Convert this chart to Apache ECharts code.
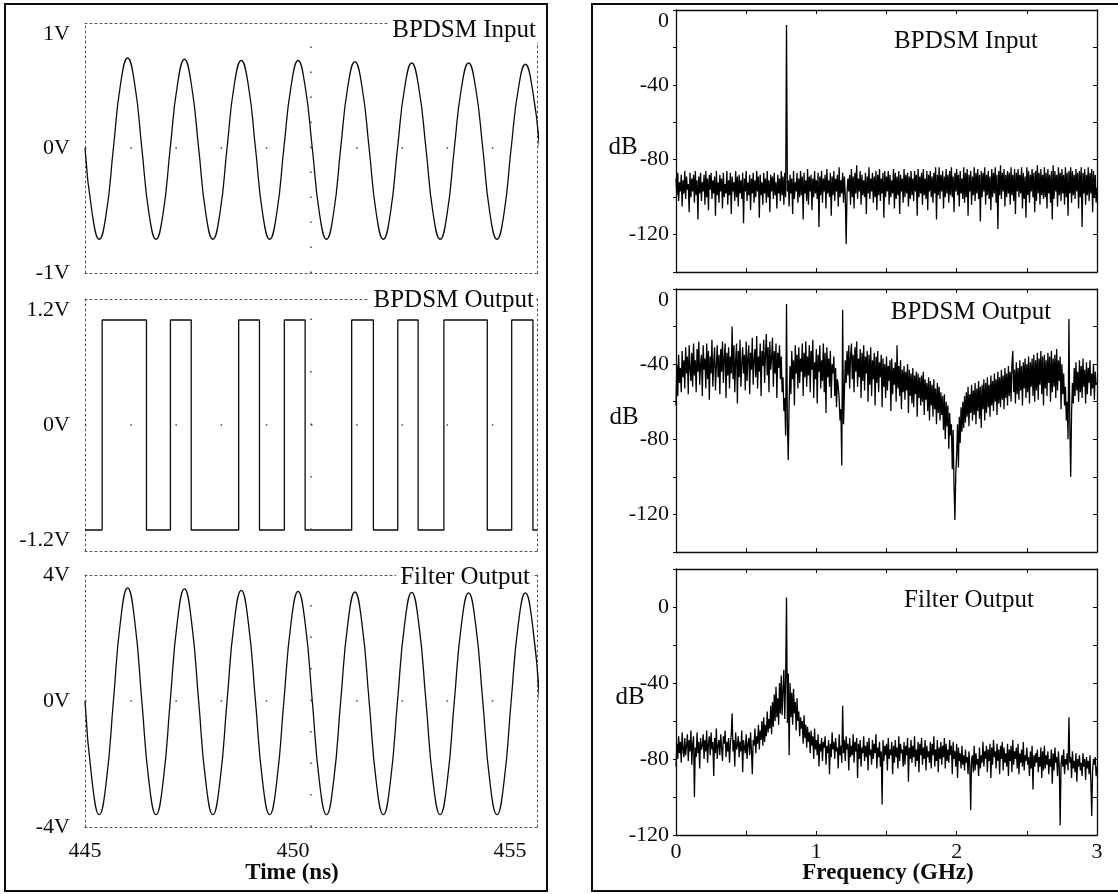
<!DOCTYPE html>
<html><head><meta charset="utf-8">
<script src="https://cdn.jsdelivr.net/npm/echarts@6/dist/echarts.min.js"></script>
<style>html,body{margin:0;padding:0;background:#fff}#c{width:1118px;height:894px}</style>
</head><body><div id="c"></div>
<script>
// ---------------- data ----------------
const timeStartNs = 445;
const sineStepNs = 0.15714;          // one eighth of the 1.257 ns period
const inputVolts = [
  0,-0.52,-0.73,-0.52,0,0.51,0.72,0.51,
  0,-0.52,-0.73,-0.52,0,0.50,0.71,0.50,
  0,-0.52,-0.73,-0.52,0,0.50,0.70,0.50,
  0,-0.52,-0.73,-0.52,0,0.49,0.70,0.49,
  0,-0.52,-0.73,-0.52,0,0.49,0.69,0.49,
  0,-0.52,-0.73,-0.52,0,0.48,0.68,0.48,
  0,-0.52,-0.73,-0.52,0,0.48,0.68,0.48,
  0,-0.52,-0.73,-0.52,0,0.47,0.67,0.47,
  0];
const filterVolts = [
  0,-2.55,-3.61,-2.55,0,2.54,3.59,2.54,
  0,-2.55,-3.61,-2.55,0,2.52,3.56,2.52,
  0,-2.55,-3.61,-2.55,0,2.48,3.51,2.48,
  0,-2.55,-3.61,-2.55,0,2.46,3.48,2.46,
  0,-2.55,-3.61,-2.55,0,2.45,3.46,2.45,
  0,-2.55,-3.61,-2.55,0,2.44,3.45,2.44,
  0,-2.55,-3.61,-2.55,0,2.43,3.43,2.43,
  0,-2.55,-3.61,-2.55,0,2.43,3.43,2.43,
  0];
const outputEdgeTimes = [445,445.38,446.36,446.89,447.35,448.40,448.86,449.41,449.87,450.90,451.38,451.92,452.37,452.94,453.90,454.44,454.91,455];
const outputLevels    = [-1,1,-1,1,-1,1,-1,1,-1,1,-1,1,-1,1,-1,1,-1,-1];

const freqStepGHz = 0.00625;
const specInputDb = [
  -90,-99,-87,-102,-92,-97,-88,-105,-91,-98,
  -86,-101,-89,-96,-93,-108,-87,-100,-90,-97,
  -88,-103,-86,-99,-91,-112,-89,-98,-87,-102,
  -92,-97,-88,-104,-86,-100,-90,-107,-88,-96,
  -87,-101,-91,-98,-89,-110,-86,-99,-92,-103,
  -88,-97,-90,-106,-87,-100,-93,-98,-86,-104,
  -91,-99,-87,-109,-89,-97,-92,-102,-86,-100,
  -89,-105,-88,-98,-91,-101,-87,-114,-90,-97,
  -86,-102,-92,-99,-88,-107,-90,-98,-87,-103,
  -91,-100,-86,-97,-89,-111,-88,-99,-92,-104,
  -87,-98,-90,-103,-86,-100,-91,-108,-88,-97,
  -89,-101,-87,-99,-92,-106,-88,-98,-90,-102,
  -86,-99,-89,-104,-87,-100,-8,-97,-91,-105,
  -88,-98,-90,-109,-86,-101,-92,-97,-87,-103,
  -90,-100,-86,-99,-89,-112,-87,-98,-91,-102,
  -85,-104,-89,-97,-88,-107,-90,-100,-86,-98,
  -91,-101,-87,-116,-89,-99,-86,-103,-90,-97,
  -88,-106,-85,-98,-91,-100,-87,-110,-89,-99,
  -86,-102,-90,-97,-88,-105,-84,-100,-91,-98,
  -87,-103,-89,-99,-125,-98,-90,-97,-88,-104,
  -85,-100,-89,-106,-87,-98,-83,-101,-90,-97,
  -86,-104,-88,-99,-91,-100,-87,-109,-89,-98,
  -84,-101,-90,-97,-87,-103,-89,-100,-86,-107,
  -88,-99,-85,-102,-90,-98,-87,-111,-86,-100,
  -89,-97,-86,-104,-88,-100,-91,-98,-85,-106,
  -87,-101,-89,-99,-86,-109,-88,-97,-90,-103,
  -85,-100,-88,-98,-87,-105,-89,-101,-86,-99,
  -90,-102,-86,-97,-88,-110,-85,-100,-89,-98,
  -87,-104,-85,-99,-90,-101,-86,-107,-88,-97,
  -86,-100,-89,-103,-87,-98,-84,-112,-88,-99,
  -84,-101,-88,-97,-86,-106,-89,-100,-85,-98,
  -88,-103,-86,-99,-84,-100,-89,-108,-87,-97,
  -85,-99,-88,-105,-86,-98,-90,-101,-84,-103,
  -87,-100,-85,-110,-88,-97,-86,-104,-89,-99,
  -84,-102,-87,-98,-85,-101,-88,-113,-86,-100,
  -87,-97,-84,-104,-88,-99,-86,-101,-89,-107,
  -85,-100,-87,-98,-84,-103,-88,-117,-86,-99,
  -83,-101,-87,-97,-85,-105,-88,-100,-86,-98,
  -87,-104,-84,-99,-88,-102,-85,-109,-87,-97,
  -85,-100,-88,-98,-84,-106,-87,-101,-89,-111,
  -84,-99,-86,-103,-88,-97,-85,-100,-87,-108,
  -86,-102,-83,-98,-87,-104,-85,-99,-88,-101,
  -84,-100,-87,-106,-85,-98,-88,-103,-86,-112,
  -83,-101,-86,-97,-88,-105,-84,-99,-87,-102,
  -85,-98,-88,-104,-84,-100,-87,-110,-86,-98,
  -84,-103,-86,-99,-88,-101,-85,-97,-87,-106,
  -86,-100,-84,-116,-87,-98,-85,-104,-88,-99,
  -84,-102,-87,-98,-85,-108,-86,-100,-88,-103,
  -95];
const specOutputDb = [
  -62,-40,-57,-35,-50,-42,-55,-33,-47,-38,
  -53,-31,-45,-36,-56,-30,-42,-49,-34,-52,
  -29,-46,-38,-55,-32,-44,-28,-51,-40,-35,
  -57,-30,-43,-37,-53,-29,-48,-33,-59,-36,
  -45,-27,-52,-39,-31,-54,-41,-30,-47,-35,
  -56,-32,-44,-28,-50,-37,-29,-58,-34,-46,
  -31,-53,-36,-45,-20,-48,-30,-55,-38,-29,
  -61,-33,-47,-27,-52,-40,-31,-45,-35,-54,
  -28,-49,-37,-30,-56,-34,-43,-26,-51,-38,
  -32,-47,-25,-53,-36,-44,-29,-57,-33,-41,
  -27,-50,-35,-24,-46,-31,-55,-28,-43,-37,
  -26,-52,-33,-45,-29,-58,-34,-42,-30,-48,
  -36,-55,-47,-65,-58,-78,-8,-72,-91,-60,
  -41,-56,-33,-48,-38,-62,-30,-45,-35,-53,
  -31,-50,-37,-44,-29,-57,-34,-47,-28,-52,
  -36,-46,-30,-55,-33,-43,-27,-58,-39,-48,
  -32,-61,-35,-44,-30,-53,-38,-49,-29,-55,
  -34,-66,-31,-47,-37,-52,-33,-58,-40,-45,
  -36,-57,-42,-63,-48,-52,-58,-70,-64,-94,
  -11,-72,-55,-38,-50,-33,-46,-30,-53,-36,
  -29,-48,-35,-55,-31,-44,-28,-52,-37,-47,
  -32,-58,-34,-49,-30,-54,-36,-45,-33,-60,
  -35,-51,-31,-57,-38,-48,-34,-62,-36,-50,
  -33,-55,-39,-47,-35,-63,-37,-52,-40,-58,
  -36,-54,-41,-49,-38,-65,-37,-56,-42,-51,
  -39,-60,-30,-53,-41,-57,-38,-64,-43,-55,
  -41,-59,-44,-54,-40,-66,-43,-57,-45,-61,
  -42,-63,-46,-56,-44,-68,-45,-58,-47,-62,
  -46,-60,-44,-67,-48,-59,-50,-65,-47,-70,
  -49,-62,-51,-68,-48,-64,-53,-72,-50,-66,
  -52,-70,-55,-67,-57,-75,-56,-80,-60,-73,
  -62,-85,-66,-78,-72,-96,-75,-105,-123,-98,
  -88,-72,-95,-68,-82,-63,-76,-60,-74,-57,
  -71,-55,-68,-52,-73,-56,-66,-51,-70,-54,
  -67,-50,-72,-53,-65,-49,-69,-52,-74,-51,
  -64,-48,-70,-50,-66,-47,-63,-51,-68,-46,
  -62,-49,-65,-45,-60,-48,-67,-44,-61,-47,
  -63,-43,-59,-46,-64,-42,-58,-45,-62,-41,
  -57,-44,-60,-40,-33,-55,-43,-61,-39,-56,
  -42,-59,-38,-54,-41,-62,-39,-53,-37,-58,
  -40,-55,-36,-61,-39,-52,-37,-57,-35,-60,
  -38,-54,-34,-59,-37,-51,-33,-56,-36,-62,
  -35,-53,-38,-57,-34,-50,-36,-60,-33,-55,
  -37,-52,-35,-58,-32,-54,-38,-49,-36,-64,
  -40,-56,-45,-62,-52,-70,-60,-80,-16,-72,
  -100,-66,-50,-61,-42,-57,-39,-54,-44,-60,
  -38,-55,-41,-58,-37,-52,-43,-61,-39,-56,
  -42,-50,-38,-57,-45,-53,-40,-59,-44,-51,
  -50];
const specFilterDb = [
  -84,-72,-80,-68,-77,-71,-82,-66,-75,-79,
  -69,-78,-73,-67,-81,-70,-76,-65,-83,-72,
  -68,-100,-74,-79,-66,-77,-71,-85,-69,-75,
  -73,-67,-80,-70,-76,-65,-82,-72,-68,-78,
  -66,-75,-71,-89,-69,-77,-64,-80,-73,-70,
  -78,-67,-74,-81,-68,-72,-65,-79,-71,-76,
  -69,-82,-72,-67,-56,-76,-70,-84,-66,-75,
  -73,-68,-79,-71,-76,-65,-87,-70,-74,-77,
  -67,-80,-72,-69,-78,-66,-75,-88,-70,-73,
  -64,-77,-68,-72,-62,-75,-65,-70,-60,-73,
  -58,-71,-62,-68,-55,-66,-59,-64,-52,-67,
  -50,-63,-46,-60,-42,-58,-48,-62,-40,-56,
  -36,-57,-44,-33,-59,-38,5,-61,-35,-78,
  -40,-58,-45,-62,-43,-56,-50,-65,-48,-60,
  -55,-68,-58,-64,-60,-72,-57,-69,-62,-74,
  -63,-71,-66,-77,-65,-73,-68,-80,-64,-75,
  -70,-78,-67,-84,-72,-76,-69,-81,-71,-74,
  -68,-83,-73,-77,-70,-88,-72,-79,-66,-75,
  -71,-80,-69,-76,-74,-85,-67,-78,-73,-82,
  -52,-77,-70,-81,-68,-75,-72,-86,-69,-79,
  -73,-78,-67,-82,-71,-76,-69,-90,-72,-80,
  -70,-84,-74,-77,-68,-81,-73,-79,-71,-86,
  -69,-78,-75,-83,-70,-80,-72,-77,-67,-85,
  -74,-79,-71,-84,-76,-104,-70,-81,-73,-78,
  -72,-86,-69,-80,-75,-78,-71,-88,-73,-82,
  -70,-79,-74,-85,-68,-81,-72,-77,-75,-84,
  -71,-83,-73,-78,-69,-92,-74,-80,-70,-82,
  -73,-79,-68,-84,-75,-81,-71,-87,-72,-78,
  -69,-83,-74,-80,-70,-86,-73,-79,-76,-82,
  -71,-85,-72,-78,-68,-84,-75,-81,-70,-87,
  -74,-80,-71,-83,-73,-79,-69,-85,-72,-81,
  -75,-82,-70,-78,-73,-88,-71,-80,-76,-84,
  -72,-90,-74,-81,-77,-85,-73,-83,-78,-86,
  -75,-82,-79,-88,-76,-84,-107,-80,-78,-87,
  -73,-86,-77,-83,-80,-89,-74,-85,-78,-82,
  -71,-84,-76,-80,-73,-87,-75,-81,-72,-90,
  -74,-83,-70,-79,-76,-85,-72,-81,-75,-88,
  -73,-80,-71,-86,-74,-82,-77,-84,-72,-89,
  -75,-81,-73,-87,-70,-83,-76,-80,-74,-85,
  -72,-88,-77,-82,-75,-84,-71,-86,-78,-81,
  -74,-83,-79,-89,-76,-85,-73,-96,-78,-84,
  -77,-82,-75,-87,-79,-84,-74,-90,-76,-86,
  -73,-85,-78,-83,-76,-88,-80,-84,-75,-93,
  -77,-86,-74,-82,-79,-89,-76,-84,-115,-83,
  -78,-84,-75,-88,-80,-83,-77,-86,-58,-82,
  -79,-90,-76,-85,-81,-87,-77,-92,-80,-84,
  -78,-86,-82,-89,-77,-84,-80,-91,-79,-85,
  -81,-88,-78,-92,-110,-86,-80,-83,-79,-89,
  -84];

const timeRangeNs = [445, 455];
const freqRangeGHz = [0, 3];
const voltRanges = [[-1, 1, 1], [-1.2, 1.2, 1.2], [-4, 4, 4]];   // min, max, tick step
const dbRanges = [[-140, 0], [-140, 0], [-120, 20]];
const leftTitles = ['BPDSM Input', 'BPDSM Output', 'Filter Output'];
const rightTitles = ['BPDSM Input', 'BPDSM Output', 'Filter Output'];

// ---------------- build ----------------
const FONT = '"Liberation Serif", "Times New Roman", serif';
const ink = '#0c0c0c';
const dotted = { color: '#555', width: 1, type: [2, 3] };
const seq = (start, step, arr) => arr.map((v, i) => [+(start + i * step).toFixed(6), v]);

const grids = [
  {left: 85, top: 23, width: 452, height: 250},
  {left: 85, top: 299, width: 452, height: 252},
  {left: 85, top: 575, width: 452, height: 252},
  {left: 676, top: 10, width: 421, height: 262},
  {left: 676, top: 289, width: 421, height: 263},
  {left: 676, top: 569, width: 421, height: 266}
].map(g => Object.assign({outerBoundsMode: 'none', containLabel: false}, g));

const xAxis = [], yAxis = [];
const lblBase = {color: ink, fontFamily: FONT, fontSize: 22};
// left (time) plots
for (let g = 0; g < 3; g++) {
  const last = g === 2;
  xAxis.push({type: 'value', gridIndex: g, min: timeRangeNs[0], max: timeRangeNs[1], interval: 5,
    axisLine: {show: true, onZero: false, lineStyle: dotted}, axisTick: {show: false}, splitLine: {show: false},
    axisLabel: last ? Object.assign({}, lblBase, {margin: 13,
      formatter: v => v === 450 ? '{m|450}' : (v === 455 ? '{r|455}' : '{l|' + v + '}'),
      rich: {l: {fontFamily: FONT, fontSize: 22, color: ink},
             m: {fontFamily: FONT, fontSize: 22, color: ink, padding: [0, 36, 0, 0]},
             r: {fontFamily: FONT, fontSize: 22, color: ink, padding: [0, 54, 0, 0]}}}) : {show: false}});
  xAxis.push({type: 'value', gridIndex: g, position: 'top', min: timeRangeNs[0], max: timeRangeNs[1], interval: 5,
    axisLine: {show: true, onZero: false, lineStyle: dotted}, axisTick: {show: false}, axisLabel: {show: false}, splitLine: {show: false}});
  const r = voltRanges[g];
  yAxis.push({type: 'value', gridIndex: g, min: r[0], max: r[1], interval: r[2],
    axisLine: {show: true, onZero: false, lineStyle: dotted}, axisTick: {show: false}, splitLine: {show: false},
    axisLabel: Object.assign({}, lblBase, {margin: 15,
      formatter: v => (Math.abs(v) < 1e-9 ? '0' : String(+v.toFixed(2))) + 'V',
      verticalAlignMaxLabel: g === 2 ? 'middle' : 'top',
      verticalAlignMinLabel: g === 1 ? 'bottom' : 'middle'})});
  yAxis.push({type: 'value', gridIndex: g, position: 'right', min: r[0], max: r[1], interval: r[2],
    axisLine: {show: true, onZero: false, lineStyle: dotted}, axisTick: {show: false}, axisLabel: {show: false}, splitLine: {show: false}});
}
// right (spectrum) plots
const frame = {show: true, onZero: false, lineStyle: {color: ink, width: 1.3}};
const tickIn = {show: true, inside: true, length: 4, lineStyle: {color: ink, width: 1}};
for (let k = 0; k < 3; k++) {
  const g = 3 + k, last = k === 2;
  xAxis.push({type: 'value', gridIndex: g, min: freqRangeGHz[0], max: freqRangeGHz[1], interval: 0.5,
    axisLine: frame, axisTick: tickIn, splitLine: {show: false},
    axisLabel: last ? Object.assign({}, lblBase, {margin: 6, formatter: v => (v % 1 === 0 ? String(v) : '')}) : {show: false}});
  xAxis.push({type: 'value', gridIndex: g, position: 'top', min: freqRangeGHz[0], max: freqRangeGHz[1], interval: 0.5,
    axisLine: frame, axisTick: tickIn, axisLabel: {show: false}, splitLine: {show: false}});
  const r = dbRanges[k];
  yAxis.push({type: 'value', gridIndex: g, min: r[0], max: r[1], interval: 20,
    axisLine: frame, axisTick: {show: true, inside: false, length: 3, lineStyle: {color: ink}}, splitLine: {show: false},
    axisLabel: Object.assign({}, lblBase, {margin: 7, formatter: v => (v % 40 === 0 ? String(v) : ''),
      verticalAlignMaxLabel: 'top'})});
  yAxis.push({type: 'value', gridIndex: g, position: 'right', min: r[0], max: r[1], interval: 20,
    axisLine: frame, axisTick: tickIn, axisLabel: {show: false}, splitLine: {show: false}});
}

const gridDots = (vStep, vOffset) => ({
  silent: true, symbol: ['none', 'none'], label: {show: false}, animation: false,
  data: [
    {yAxis: 0, lineStyle: {color: '#444', width: 1.5, type: [1.5, 43.7]}},
    {xAxis: 450, lineStyle: {color: '#444', width: 1.5, type: [1.5, vStep - 1.5], dashOffset: vOffset}}
  ]
});
const waveStyle = {color: ink, width: 1.3};
const specStyle = {color: '#000', width: 1.3};
const series = [
  {type: 'line', xAxisIndex: 0, yAxisIndex: 0, data: seq(timeStartNs, sineStepNs, inputVolts), smooth: 0.5,
   showSymbol: false, lineStyle: waveStyle, markLine: gridDots(25, 0)},
  {type: 'line', xAxisIndex: 2, yAxisIndex: 2, data: outputEdgeTimes.map((t, i) => [t, outputLevels[i]]), step: 'end',
   showSymbol: false, lineStyle: waveStyle, markLine: gridDots(52.5, 31.5)},
  {type: 'line', xAxisIndex: 4, yAxisIndex: 4, data: seq(timeStartNs, sineStepNs, filterVolts), smooth: 0.5,
   showSymbol: false, lineStyle: waveStyle, markLine: gridDots(31.5, 0)},
  {type: 'line', xAxisIndex: 6, yAxisIndex: 6, data: seq(0, freqStepGHz, specInputDb), showSymbol: false, lineStyle: specStyle},
  {type: 'line', xAxisIndex: 8, yAxisIndex: 8, data: seq(0, freqStepGHz, specOutputDb), showSymbol: false, lineStyle: specStyle},
  {type: 'line', xAxisIndex: 10, yAxisIndex: 10, data: seq(0, freqStepGHz, specFilterDb), showSymbol: false, lineStyle: specStyle}
].map(s => Object.assign({silent: true, animation: false, sampling: null, progressive: 0}, s));

const txt = (text, x, y, opts) => ({type: 'text', z: 100, x, y,
  style: Object.assign({text, fill: ink, font: '25px ' + FONT, align: 'center', verticalAlign: 'middle'}, opts || {})});
const graphic = [
  {type: 'rect', z: 100, shape: {x: 5, y: 4, width: 542, height: 887}, style: {fill: 'none', stroke: ink, lineWidth: 2}},
  {type: 'rect', z: 100, shape: {x: 592, y: 4, width: 560, height: 887}, style: {fill: 'none', stroke: ink, lineWidth: 2}},
  txt(leftTitles[0], 538, 30, {align: 'right', backgroundColor: '#fff', padding: [0, 2, 0, 4]}),
  txt(leftTitles[1], 536, 300, {align: 'right', backgroundColor: '#fff', padding: [0, 2, 0, 4]}),
  txt(leftTitles[2], 532, 577, {align: 'right', backgroundColor: '#fff', padding: [0, 2, 0, 4]}),
  txt(rightTitles[0], 966, 41),
  txt(rightTitles[1], 971, 312),
  txt(rightTitles[2], 969, 600),
  txt('dB', 623, 147),
  txt('dB', 624, 417),
  txt('dB', 630, 697),
  txt('Time (ns)', 292, 873, {font: 'bold 23px ' + FONT}),
  txt('Frequency (GHz)', 888, 873, {font: 'bold 23px ' + FONT})
];

const chart = echarts.init(document.getElementById('c'), null, {renderer: 'canvas'});
chart.setOption({animation: false, backgroundColor: '#fff', grid: grids, xAxis, yAxis, series, graphic});
</script></body></html>
